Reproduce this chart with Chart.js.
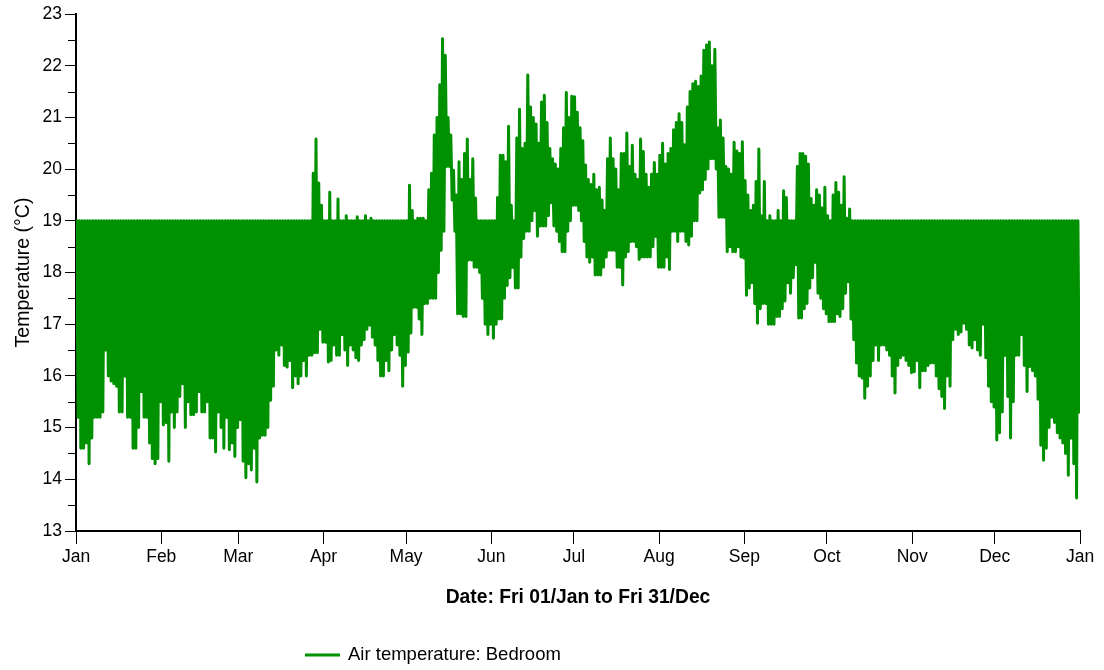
<!DOCTYPE html>
<html>
<head>
<meta charset="utf-8">
<title>Air temperature: Bedroom</title>
<script src="https://cdn.jsdelivr.net/npm/chart.js@4/dist/chart.umd.min.js"></script>
<style>
  html, body { margin: 0; padding: 0; background: #ffffff; }
  #chart { display: block; }
</style>
</head>
<body>
<canvas id="chart" width="1104" height="670"></canvas>
<script>
// Month labels on the date axis and the day-of-year each month starts on (2010).
const monthLabels = ['Jan', 'Feb', 'Mar', 'Apr', 'May', 'Jun', 'Jul', 'Aug', 'Sep', 'Oct', 'Nov', 'Dec', 'Jan'];
const monthStartDays = [0, 31, 59, 90, 120, 151, 181, 212, 243, 273, 304, 334, 365];

const seriesName = 'Air temperature: Bedroom';
const xAxisTitle = 'Date: Fri 01/Jan to Fri 31/Dec';
const yAxisTitle = 'Temperature (°C)';

// Daily maximum bedroom air temperature (°C), 1 Jan .. 31 Dec.
const dailyHigh = [
  // Jan
  19.0, 19.0, 19.0, 19.0, 19.0, 19.0, 19.0, 19.0, 19.0, 19.0, 19.0, 19.0, 19.0, 19.0, 19.0, 19.0,
  19.0, 19.0, 19.0, 19.0, 19.0, 19.0, 19.0, 19.0, 19.0, 19.0, 19.0, 19.0, 19.0, 19.0, 19.0,
  // Feb
  19.0, 19.0, 19.0, 19.0, 19.0, 19.0, 19.0, 19.0, 19.0, 19.0, 19.0, 19.0, 19.0, 19.0,
  19.0, 19.0, 19.0, 19.0, 19.0, 19.0, 19.0, 19.0, 19.0, 19.0, 19.0, 19.0, 19.0, 19.0,
  // Mar
  19.0, 19.0, 19.0, 19.0, 19.0, 19.0, 19.0, 19.0, 19.0, 19.0, 19.0, 19.0, 19.0, 19.0, 19.0, 19.0,
  19.0, 19.0, 19.0, 19.0, 19.0, 19.0, 19.0, 19.0, 19.0, 19.0, 19.0, 19.92, 20.58, 19.73, 19.3,
  // Apr
  19.0, 19.0, 19.55, 19.0, 19.0, 19.42, 19.0, 19.0, 19.1, 19.0, 19.0, 19.0, 19.08, 19.0, 19.0,
  19.1, 19.0, 19.05, 19.0, 19.0, 19.0, 19.0, 19.0, 19.0, 19.0, 19.0, 19.0, 19.0, 19.0, 19.0,
  // May
  19.0, 19.69, 19.2, 19.0, 19.05, 19.05, 19.05, 19.0, 19.6, 19.92, 20.66, 21.0, 21.63, 22.52, 22.2, 21.0,
  20.66, 19.98, 19.5, 20.14, 19.8, 20.3, 20.58, 19.8, 20.2, 19.44, 19.0, 19.0, 19.0, 19.0, 19.0,
  // Jun
  19.0, 19.0, 19.45, 20.27, 20.27, 20.14, 20.83, 19.3, 19.0, 20.6, 21.16, 20.4, 20.5, 21.82, 21.2,
  21.0, 20.87, 20.5, 21.3, 21.43, 20.9, 20.4, 20.2, 20.1, 20.0, 20.4, 20.8, 21.48, 21.0, 21.41,
  // Jul
  21.4, 21.1, 20.8, 20.55, 20.08, 19.8, 19.7, 19.9, 19.6, 19.65, 19.4, 19.2, 20.2, 20.6, 20.2, 20.0,
  19.6, 20.3, 20.3, 20.7, 20.05, 20.46, 19.9, 19.8, 20.58, 20.34, 19.9, 19.65, 19.9, 20.13, 19.9,
  // Aug
  20.27, 20.5, 20.1, 20.3, 20.4, 20.76, 20.9, 21.07, 20.9, 20.47, 21.2, 21.5, 21.65, 21.7, 21.6, 21.8,
  22.3, 22.4, 22.46, 22.0, 22.32, 20.8, 20.95, 20.6, 20.05, 20.0, 19.9, 20.52, 20.35, 20.3, 20.53,
  // Sep
  19.78, 19.5, 19.2, 19.3, 19.76, 20.39, 19.1, 19.76, 19.0, 19.1, 19.0, 19.0, 19.2, 19.0, 19.58,
  19.45, 19.0, 19.0, 19.0, 20.05, 20.3, 20.3, 20.25, 20.1, 19.43, 19.3, 19.6, 19.5, 19.25, 19.65,
  // Oct
  19.1, 19.0, 19.5, 19.74, 19.55, 19.3, 19.85, 19.05, 19.23, 19.0, 19.0, 19.0, 19.0, 19.0, 19.0, 19.0,
  19.0, 19.0, 19.0, 19.0, 19.0, 19.0, 19.0, 19.0, 19.0, 19.0, 19.0, 19.0, 19.0, 19.0, 19.0,
  // Nov
  19.0, 19.0, 19.0, 19.0, 19.0, 19.0, 19.0, 19.0, 19.0, 19.0, 19.0, 19.0, 19.0, 19.0, 19.0,
  19.0, 19.0, 19.0, 19.0, 19.0, 19.0, 19.0, 19.0, 19.0, 19.0, 19.0, 19.0, 19.0, 19.0, 19.0,
  // Dec
  19.0, 19.0, 19.0, 19.0, 19.0, 19.0, 19.0, 19.0, 19.0, 19.0, 19.0, 19.0, 19.0, 19.0, 19.0, 19.0,
  19.0, 19.0, 19.0, 19.0, 19.0, 19.0, 19.0, 19.0, 19.0, 19.0, 19.0, 19.0, 19.0, 19.0, 19.0
];

// Daily minimum bedroom air temperature (°C), 1 Jan .. 31 Dec.
const dailyLow = [
  // Jan
  15.2, 14.6, 14.6, 14.7, 14.3, 14.8, 15.2, 15.2, 15.2, 15.3, 16.5, 16.0, 15.9, 15.85, 15.8, 15.3,
  15.3, 16.0, 15.2, 15.2, 14.6, 14.6, 15.0, 15.7, 15.2, 15.2, 14.7, 14.4, 14.3, 14.4, 15.5,
  // Feb
  15.05, 15.1, 14.35, 15.3, 15.0, 15.3, 15.6, 15.85, 15.0, 15.5, 15.25, 15.25, 15.3, 15.7,
  15.3, 15.3, 15.5, 14.8, 14.8, 14.53, 15.3, 15.0, 14.6, 15.2, 14.57, 14.7, 14.44, 15.0,
  // Mar
  15.15, 14.35, 14.03, 14.3, 14.18, 14.6, 13.95, 14.8, 14.85, 14.85, 15.0, 15.53, 15.8, 16.5, 16.4, 16.6,
  16.2, 16.17, 16.3, 15.77, 16.0, 15.85, 16.0, 16.3, 16.0, 16.4, 16.4, 16.45, 16.45, 16.9, 16.65,
  // Apr
  16.65, 16.27, 16.3, 16.6, 16.4, 16.4, 16.8, 16.5, 16.2, 16.6, 16.5, 16.35, 16.3, 16.6, 16.7,
  16.9, 16.98, 16.75, 16.6, 16.3, 16.0, 16.0, 16.3, 16.1, 16.5, 16.8, 16.6, 16.4, 15.8, 16.2,
  // May
  16.46, 16.83, 17.33, 17.33, 17.1, 16.8, 17.4, 17.4, 17.5, 17.5, 17.5, 18.0, 18.43, 18.8, 20.05, 20.05,
  19.4, 18.8, 17.2, 17.2, 17.15, 17.15, 18.24, 18.24, 18.1, 18.1, 18.0, 17.5, 17.0, 16.8, 17.0,
  // Jun
  16.73, 17.0, 17.1, 17.1, 17.5, 17.75, 17.9, 18.1, 17.7, 17.7, 18.3, 18.66, 18.8, 18.8, 19.0,
  19.2, 18.7, 18.9, 18.9, 18.9, 19.1, 19.35, 18.9, 18.8, 18.6, 18.4, 18.4, 18.8, 19.0, 19.3,
  // Jul
  19.3, 19.2, 19.0, 18.6, 18.3, 18.2, 18.3, 17.95, 17.95, 17.95, 18.1, 18.3, 18.43, 18.43, 18.43, 18.1,
  18.1, 17.76, 18.3, 18.4, 18.6, 18.6, 18.5, 18.25, 18.3, 18.3, 18.3, 18.3, 18.5, 18.7, 18.1,
  // Aug
  18.1, 18.1, 18.3, 18.06, 18.8, 18.8, 18.6, 18.8, 18.8, 18.6, 18.53, 18.7, 19.0, 19.0, 19.54, 19.6,
  19.8, 20.0, 20.2, 20.2, 20.0, 19.07, 19.07, 19.07, 18.4, 18.5, 18.4, 18.4, 18.5, 18.3, 18.28,
  // Sep
  17.56, 17.7, 17.8, 17.4, 17.02, 17.3, 17.4, 17.4, 17.0, 17.0, 17.0, 17.15, 17.15, 17.3, 17.45,
  17.8, 17.6, 17.9, 18.15, 17.12, 17.12, 17.3, 17.4, 17.7, 17.9, 18.2, 17.6, 17.5, 17.3, 17.2,
  // Oct
  17.05, 17.05, 17.05, 17.2, 17.15, 17.3, 17.6, 17.82, 17.1, 16.7, 16.25, 16.0, 15.96, 15.57, 15.8, 16.0,
  16.3, 16.6, 16.3, 16.6, 16.6, 16.5, 16.4, 16.0, 15.67, 16.2, 16.35, 16.4, 16.3, 16.2, 16.06,
  // Nov
  16.08, 16.3, 15.77, 16.1, 16.1, 16.2, 16.25, 16.25, 16.0, 15.75, 15.6, 15.37, 16.0, 15.8, 16.7,
  16.9, 16.8, 16.85, 17.02, 16.9, 16.6, 16.54, 16.7, 16.5, 16.4, 17.0, 16.35, 15.8, 15.5, 15.4,
  // Dec
  14.76, 14.9, 15.3, 16.4, 15.6, 14.8, 15.5, 16.4, 16.4, 16.8, 16.2, 15.7, 16.18, 16.1, 16.0, 15.55,
  14.66, 14.37, 14.6, 15.0, 15.2, 15.1, 14.9, 14.8, 14.7, 14.5, 14.08, 14.8, 14.3, 13.64, 15.3
];

const LINE_GREEN = '#009100';
const FONT_FAMILY = '"Liberation Sans", Arial, Helvetica, sans-serif';

// Each day contributes its peak then its trough, giving the daily heating swing.
const readings = [];
dailyHigh.forEach((high, day) => {
  readings.push({ x: day + 0.25, y: high });
  readings.push({ x: day + 0.75, y: dailyLow[day] });
});

// Short unlabelled ticks at every half degree on the temperature axis.
const halfDegreeTicks = {
  id: 'halfDegreeTicks',
  afterDraw(chart, args, opts) {
    const y = chart.scales.y;
    const ctx = chart.ctx;
    const left = chart.chartArea.left;
    ctx.save();
    ctx.strokeStyle = '#000';
    ctx.lineWidth = 1;
    ctx.beginPath();
    for (let v = y.min + 0.5; v < y.max; v += 1) {
      const py = Math.round(y.getPixelForValue(v)) + 0.5;
      ctx.moveTo(left - opts.length, py);
      ctx.lineTo(left, py);
    }
    ctx.stroke();
    ctx.restore();
  }
};

// Single-entry key below the date axis.
const seriesKey = {
  id: 'seriesKey',
  afterDraw(chart, args, opts) {
    const ds = chart.data.datasets[0];
    const ctx = chart.ctx;
    ctx.save();
    ctx.strokeStyle = ds.borderColor;
    ctx.lineWidth = 3;
    ctx.beginPath();
    ctx.moveTo(opts.x, opts.y);
    ctx.lineTo(opts.x + opts.lineLength, opts.y);
    ctx.stroke();
    ctx.fillStyle = '#000';
    ctx.font = opts.fontSize + 'px ' + FONT_FAMILY;
    ctx.textBaseline = 'middle';
    ctx.textAlign = 'left';
    ctx.fillText(ds.label, opts.x + opts.lineLength + opts.gap, opts.y);
    ctx.restore();
  }
};

new Chart(document.getElementById('chart'), {
  type: 'line',
  data: {
    datasets: [{
      label: seriesName,
      data: readings,
      borderColor: LINE_GREEN,
      backgroundColor: LINE_GREEN,
      borderWidth: 3,
      pointRadius: 0,
      pointHoverRadius: 0,
      tension: 0,
      fill: false,
      borderJoinStyle: 'round',
      borderCapStyle: 'round'
    }]
  },
  options: {
    responsive: false,
    animation: false,
    events: [],
    layout: { padding: { left: 0, right: 24, top: 14, bottom: 50 } },
    plugins: {
      legend: { display: false },
      tooltip: { enabled: false },
      halfDegreeTicks: { length: 8 },
      seriesKey: { x: 305, y: 655, lineLength: 35, gap: 8, fontSize: 18.5 }
    },
    scales: {
      x: {
        type: 'linear',
        min: monthStartDays[0],
        max: monthStartDays[monthStartDays.length - 1],
        afterBuildTicks(scale) {
          scale.ticks = monthStartDays.map(v => ({ value: v }));
        },
        afterFit(scale) { scale.height = 89; },
        ticks: {
          autoSkip: false,
          maxRotation: 0,
          padding: 3,
          color: '#000',
          font: { family: FONT_FAMILY, size: 17.5 },
          callback: (value, index) => monthLabels[index]
        },
        grid: { drawOnChartArea: false, tickLength: 13, tickColor: '#000', tickWidth: 1 },
        border: { display: true, color: '#000', width: 2 },
        title: {
          display: true,
          text: xAxisTitle,
          color: '#000',
          font: { family: FONT_FAMILY, size: 19.3, weight: 'bold' },
          padding: { top: 0, bottom: 11 }
        }
      },
      y: {
        type: 'linear',
        min: 13,
        max: 23,
        afterFit(scale) { scale.width = 76; },
        ticks: {
          stepSize: 1,
          autoSkip: false,
          padding: 3,
          color: '#000',
          font: { family: FONT_FAMILY, size: 17.5 }
        },
        grid: { drawOnChartArea: false, tickLength: 11, tickColor: '#000', tickWidth: 1 },
        border: { display: true, color: '#000', width: 2 },
        title: {
          display: true,
          text: yAxisTitle,
          color: '#000',
          font: { family: FONT_FAMILY, size: 19.5 },
          padding: { top: 12, bottom: 0 }
        }
      }
    }
  },
  plugins: [halfDegreeTicks, seriesKey]
});
</script>
</body>
</html>
